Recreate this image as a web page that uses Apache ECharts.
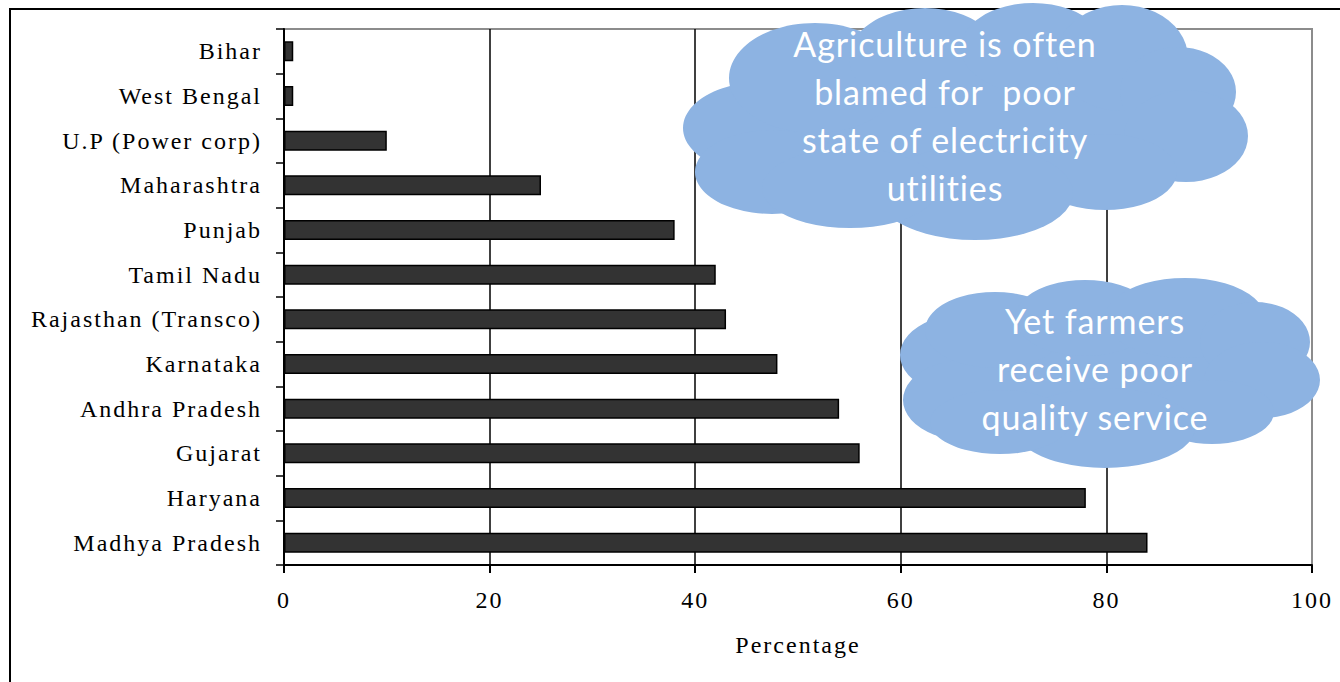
<!DOCTYPE html>
<html>
<head>
<meta charset="utf-8">
<script src="https://cdn.jsdelivr.net/npm/echarts@6/dist/echarts.min.js"></script>
<style>
  html, body { margin: 0; padding: 0; background: #fff; }
  #chart { width: 1340px; height: 682px; }
  /* widen the serif axis text a little */
  #chart text { letter-spacing: 2px; }
  #chart text[style*="Lato"] { letter-spacing: 0.9px; }
</style>
</head>
<body>
<div id="chart"></div>
<script>
// Share of agricultural consumption by state utility (%)
const states = [
  'Bihar', 'West Bengal', 'U.P (Power corp)', 'Maharashtra', 'Punjab',
  'Tamil Nadu', 'Rajasthan (Transco)', 'Karnataka', 'Andhra Pradesh',
  'Gujarat', 'Haryana', 'Madhya Pradesh'
];
const percentages = [0.9, 0.9, 10, 25, 38, 42, 43, 48, 54, 56, 78, 84];
const axisTitle = 'Percentage';
const noteTop = ['Agriculture is often', 'blamed for  poor', 'state of electricity', 'utilities'];
const noteBottom = ['Yet farmers', 'receive poor', 'quality service'];

const serif = '"Liberation Serif", "Times New Roman", serif';
const cloudBlue = '#8db3e2';
const noteZ = 50;

// a cloud is a bundle of overlapping ellipses: [cx, cy, rx, ry]
function cloud(lobes) {
  return lobes.map(([cx, cy, rx, ry]) => ({
    type: 'circle',
    z: noteZ,
    x: cx, y: cy, scaleY: ry / rx,
    shape: { cx: 0, cy: 0, r: rx },
    style: { fill: cloudBlue },
    silent: true
  }));
}

const cloudTop = cloud([
  [965, 130, 240, 75],
  [762, 128, 79, 46],
  [772, 172, 77, 42],
  [815, 78, 86, 55],
  [925, 58, 76, 50],
  [1033, 48, 72, 45],
  [1122, 58, 66, 53],
  [1178, 92, 58, 45],
  [1186, 136, 62, 46],
  [1105, 172, 72, 38],
  [975, 193, 98, 47],
  [850, 188, 88, 40]
]);

const cloudBottom = cloud([
  [1105, 372, 175, 62],
  [962, 355, 62, 40],
  [965, 400, 62, 40],
  [995, 330, 70, 38],
  [1085, 318, 70, 38],
  [1185, 318, 80, 40],
  [1255, 342, 55, 40],
  [1262, 380, 58, 38],
  [1212, 412, 62, 32],
  [1105, 428, 90, 40],
  [1000, 422, 70, 32]
]);

function note(lines, x, y) {
  return {
    type: 'text',
    z: noteZ + 1,
    x: x, y: y,
    silent: true,
    style: {
      text: lines.join('\n'),
      fill: '#ffffff',
      font: '34px Lato, "Open Sans", sans-serif',
      lineHeight: 48,
      align: 'center',
      verticalAlign: 'top',
      textAlign: 'center',
      textVerticalAlign: 'top'
    }
  };
}

const chart = echarts.init(document.getElementById('chart'), null, { renderer: 'svg' });

chart.setOption({
  animation: false,
  backgroundColor: '#ffffff',
  grid: {
    left: 284, top: 29, right: 28, bottom: 117,
    show: true, borderColor: '#8c8c8c', borderWidth: 2, backgroundColor: 'transparent'
  },
  xAxis: {
    type: 'value',
    min: 0, max: 100, interval: 20,
    name: axisTitle,
    nameLocation: 'middle',
    nameGap: 68,
    nameTextStyle: { fontFamily: serif, fontSize: 24, color: '#000' },
    axisLine: { show: true, lineStyle: { color: '#000', width: 2 } },
    axisTick: { show: true, inside: false, length: 8, lineStyle: { color: '#000', width: 2 } },
    axisLabel: { fontFamily: serif, fontSize: 24, color: '#000', margin: 23 },
    splitLine: { show: true, showMaxLine: false, lineStyle: { color: '#000', width: 1.5 } }
  },
  yAxis: {
    type: 'category',
    data: states,
    inverse: true,
    axisLine: { show: true, lineStyle: { color: '#000', width: 2 } },
    axisTick: { show: true, inside: false, length: 8, alignWithLabel: false, lineStyle: { color: '#000', width: 1.5 } },
    axisLabel: { fontFamily: serif, fontSize: 24, color: '#000', margin: 22 },
    splitLine: { show: false }
  },
  series: [{
    type: 'bar',
    data: percentages,
    barWidth: 20,
    itemStyle: { color: '#333333', borderColor: '#000', borderWidth: 1.5 }
  }],
  graphic: [
    {
      type: 'rect',
      shape: { x: 10, y: 9, width: 1400, height: 720 },
      style: { fill: 'none', stroke: '#000', lineWidth: 2 },
      silent: true
    }
  ].concat(cloudTop, cloudBottom, [note(noteTop, 945, 19), note(noteBottom, 1095, 296)])
});
</script>
</body>
</html>
